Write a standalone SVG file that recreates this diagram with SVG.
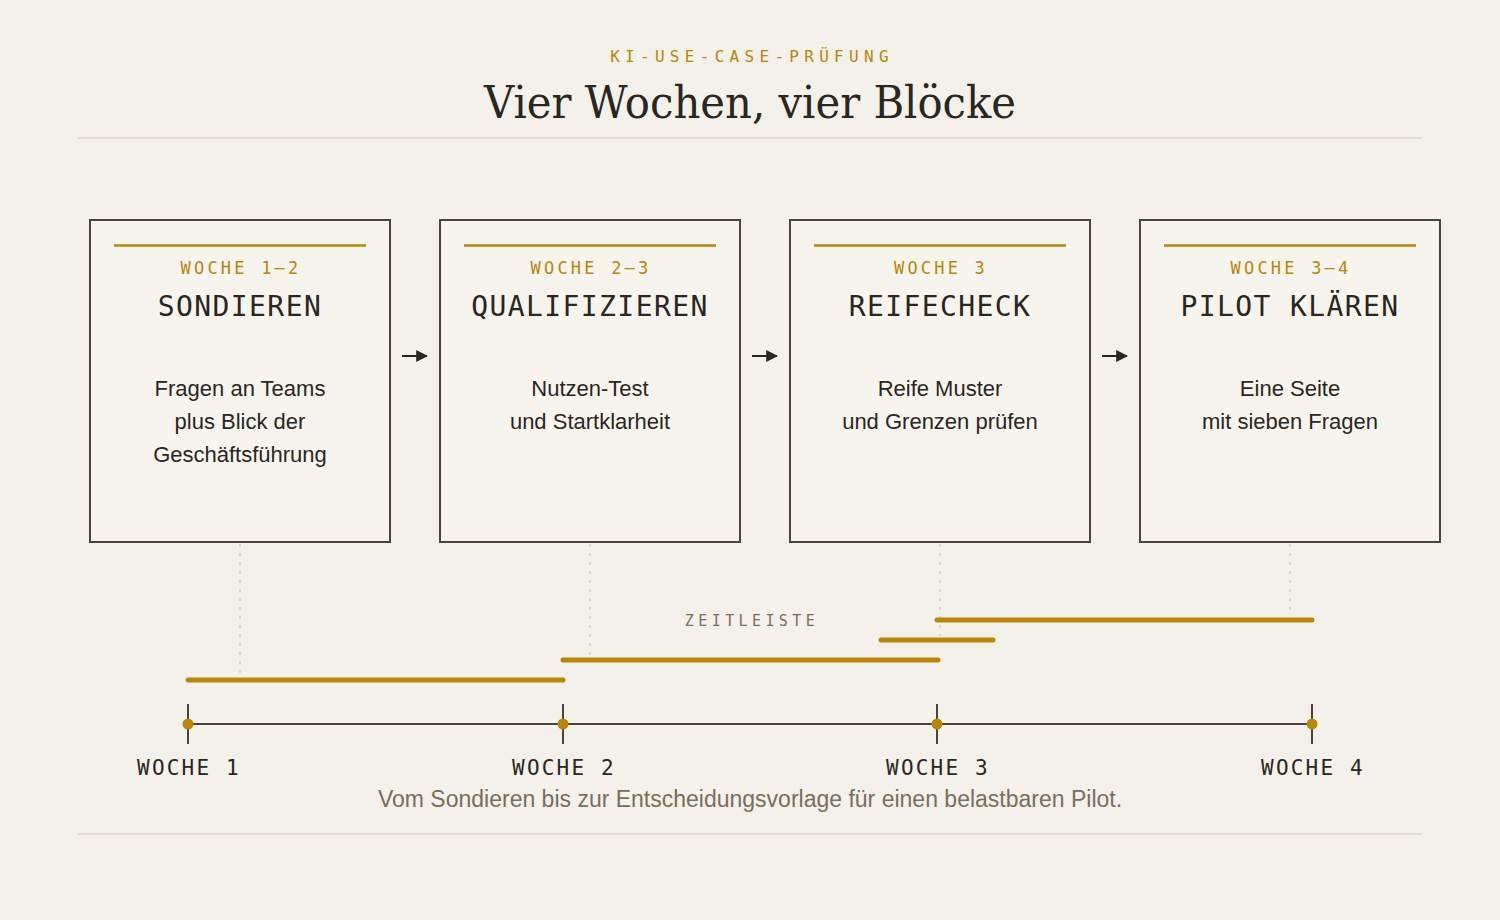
<svg xmlns="http://www.w3.org/2000/svg" width="1500" height="920" viewBox="0 0 1500 920">
<defs>
<style>
.bg{fill:#f4f1ea}
.box{fill:#f7f4ee;stroke:#4a443a;stroke-width:2}
.accent{stroke:#b8860b;stroke-width:2.5}
.mono{font-family:"DejaVu Sans Mono","Liberation Mono",monospace}
.week{font-size:17px;letter-spacing:3.2px;fill:#b8860b;text-anchor:middle}
.ttl{font-size:28px;letter-spacing:1.4px;fill:#2a2620;text-anchor:middle}
.body{font-family:"Liberation Sans",Arial,sans-serif;font-size:22px;fill:#2a2620;text-anchor:middle}
.arrow{stroke:#2a2620;stroke-width:2;fill:none}
.guide{stroke:#ddd6c8;stroke-width:2;stroke-dasharray:3,6}
.bar{stroke:#b8860b;stroke-width:5;stroke-linecap:round}
.axis{stroke:#4a443a;stroke-width:2}
.dot{fill:#b8860b}
.axlab{font-size:21px;letter-spacing:2.2px;fill:#2a2620;text-anchor:middle}
.rule{stroke:#e2dccf;stroke-width:2}
</style>
<marker id="ah" viewBox="0 0 10 10" refX="9" refY="5" markerWidth="12" markerHeight="12" markerUnits="userSpaceOnUse" orient="auto">
<path d="M0,0 L10,5 L0,10 Z" fill="#2a2620"/>
</marker>
</defs>
<rect class="bg" x="0" y="0" width="1500" height="920"/>

<g id="header">
<text class="mono" x="752" y="62" font-size="16" letter-spacing="5.3" fill="#b8860b" text-anchor="middle">KI-USE-CASE-PRÜFUNG</text>
<text x="750" y="118" font-family="'DejaVu Serif','Liberation Serif',serif" font-size="44" fill="#2a2620" text-anchor="middle" textLength="532" lengthAdjust="spacingAndGlyphs">Vier Wochen, vier Blöcke</text>
<line class="rule" x1="78" y1="138" x2="1422" y2="138"/>
</g>

<g id="node-sondieren">
<rect class="box" x="90" y="220" width="300" height="322"/>
<line class="accent" x1="114" y1="245.5" x2="366" y2="245.5"/>
<text class="mono week" x="241" y="274">WOCHE 1–2</text>
<text class="mono ttl" x="240" y="316">SONDIEREN</text>
<text class="body" x="240" y="396">Fragen an Teams</text>
<text class="body" x="240" y="429">plus Blick der</text>
<text class="body" x="240" y="462">Geschäftsführung</text>
</g>

<g id="node-qualifizieren">
<rect class="box" x="440" y="220" width="300" height="322"/>
<line class="accent" x1="464" y1="245.5" x2="716" y2="245.5"/>
<text class="mono week" x="591" y="274">WOCHE 2–3</text>
<text class="mono ttl" x="590" y="316">QUALIFIZIEREN</text>
<text class="body" x="590" y="396">Nutzen-Test</text>
<text class="body" x="590" y="429">und Startklarheit</text>
</g>

<g id="node-reifecheck">
<rect class="box" x="790" y="220" width="300" height="322"/>
<line class="accent" x1="814" y1="245.5" x2="1066" y2="245.5"/>
<text class="mono week" x="941" y="274">WOCHE 3</text>
<text class="mono ttl" x="940" y="316">REIFECHECK</text>
<text class="body" x="940" y="396">Reife Muster</text>
<text class="body" x="940" y="429">und Grenzen prüfen</text>
</g>

<g id="node-pilot">
<rect class="box" x="1140" y="220" width="300" height="322"/>
<line class="accent" x1="1164" y1="245.5" x2="1416" y2="245.5"/>
<text class="mono week" x="1291" y="274">WOCHE 3–4</text>
<text class="mono ttl" x="1290" y="316">PILOT KLÄREN</text>
<text class="body" x="1290" y="396">Eine Seite</text>
<text class="body" x="1290" y="429">mit sieben Fragen</text>
</g>

<g id="connectors">
<line class="arrow" x1="402" y1="356" x2="427" y2="356" marker-end="url(#ah)"/>
<line class="arrow" x1="752" y1="356" x2="777" y2="356" marker-end="url(#ah)"/>
<line class="arrow" x1="1102" y1="356" x2="1127" y2="356" marker-end="url(#ah)"/>
<line class="guide" x1="240" y1="544" x2="240" y2="676"/>
<line class="guide" x1="590" y1="544" x2="590" y2="656"/>
<line class="guide" x1="940" y1="544" x2="940" y2="636"/>
<line class="guide" x1="1290" y1="544" x2="1290" y2="616"/>
</g>

<g id="timeline">
<text class="mono" x="752" y="626" font-size="15" letter-spacing="4.4" fill="#7a6e5a" text-anchor="middle">ZEITLEISTE</text>
<line class="bar" x1="188" y1="680" x2="563" y2="680"/>
<line class="bar" x1="563" y1="660" x2="938" y2="660"/>
<line class="bar" x1="881" y1="640" x2="993" y2="640"/>
<line class="bar" x1="937" y1="620" x2="1312" y2="620"/>
<line class="axis" x1="188" y1="724" x2="1312" y2="724"/>
<line class="axis" x1="188" y1="704" x2="188" y2="744"/>
<line class="axis" x1="563" y1="704" x2="563" y2="744"/>
<line class="axis" x1="937" y1="704" x2="937" y2="744"/>
<line class="axis" x1="1312" y1="704" x2="1312" y2="744"/>
<circle class="dot" cx="188" cy="724" r="5.5"/>
<circle class="dot" cx="563" cy="724" r="5.5"/>
<circle class="dot" cx="937" cy="724" r="5.5"/>
<circle class="dot" cx="1312" cy="724" r="5.5"/>
<text class="mono axlab" x="189" y="775">WOCHE 1</text>
<text class="mono axlab" x="564" y="775">WOCHE 2</text>
<text class="mono axlab" x="938" y="775">WOCHE 3</text>
<text class="mono axlab" x="1313" y="775">WOCHE 4</text>
</g>

<g id="footer">
<text x="750" y="807" font-family="'Liberation Sans',Arial,sans-serif" font-size="23" fill="#7a6e5a" text-anchor="middle">Vom Sondieren bis zur Entscheidungsvorlage für einen belastbaren Pilot.</text>
<line class="rule" x1="78" y1="834" x2="1422" y2="834"/>
</g>
</svg>
